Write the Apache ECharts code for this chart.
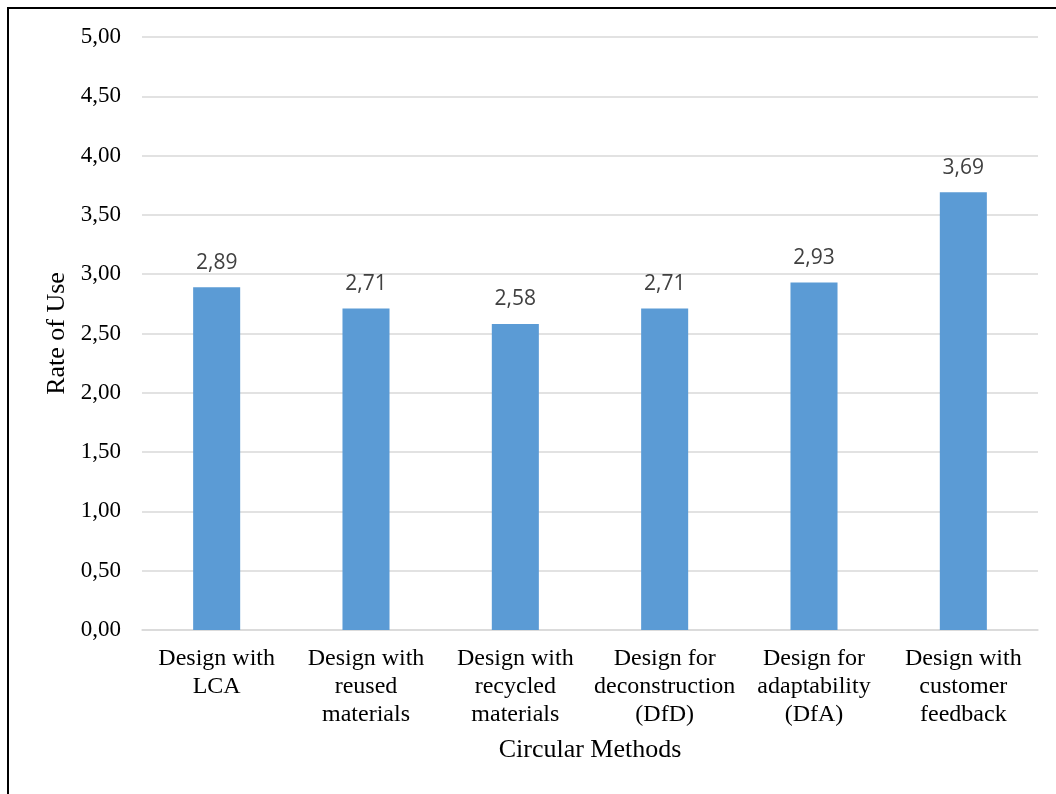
<!DOCTYPE html>
<html>
<head>
<meta charset="utf-8">
<script src="https://cdn.jsdelivr.net/npm/echarts@6/dist/echarts.min.js"></script>
<style>
  html, body { margin: 0; padding: 0; background: #fff; }
  #chart { width: 1056px; height: 794px; }
</style>
</head>
<body>
<div id="chart"></div>
<script>
// Circular design methods and their average rate of use
const categories = [
  'Design with\nLCA',
  'Design with\nreused\nmaterials',
  'Design with\nrecycled\nmaterials',
  'Design for\ndeconstruction\n(DfD)',
  'Design for\nadaptability\n(DfA)',
  'Design with\ncustomer\nfeedback'
];
const rateOfUse = [2.89, 2.71, 2.58, 2.71, 2.93, 3.69];
const yMin = 0;
const yMax = 5;
const yStep = 0.5;

const fmtComma = v => v.toFixed(2).replace('.', ',');
const serif = '"Liberation Serif", "Times New Roman", serif';

const chart = echarts.init(document.getElementById('chart'), null, { renderer: 'canvas' });
chart.setOption({
  backgroundColor: '#ffffff',
  animation: false,
  graphic: [{
    type: 'rect',
    shape: { x: 8, y: 8, width: 1100, height: 850 },
    style: { fill: 'none', stroke: '#000000', lineWidth: 2 },
    silent: true,
    z: 100
  }],
  grid: { left: 142, right: 18, top: 37, bottom: 164, containLabel: false },
  xAxis: {
    type: 'category',
    data: categories,
    name: 'Circular Methods',
    nameLocation: 'middle',
    nameGap: 107,
    nameTextStyle: { fontFamily: serif, fontSize: 26, color: '#000' },
    axisLine: { show: true, lineStyle: { color: '#D9D9D9', width: 1.5 } },
    axisTick: { show: false },
    axisLabel: {
      fontFamily: serif, fontSize: 24, color: '#000',
      lineHeight: 28, margin: 15, interval: 0
    }
  },
  yAxis: {
    type: 'value',
    min: yMin,
    max: yMax,
    interval: yStep,
    name: 'Rate of Use',
    nameLocation: 'middle',
    nameGap: 71,
    nameTextStyle: { fontFamily: serif, fontSize: 26, color: '#000' },
    axisLine: { show: false },
    axisTick: { show: false },
    splitLine: { lineStyle: { color: '#D9D9D9', width: 1.5 } },
    axisLabel: {
      fontFamily: serif, fontSize: 23, color: '#000', margin: 21,
      formatter: v => fmtComma(v)
    }
  },
  series: [{
    type: 'bar',
    data: rateOfUse,
    barWidth: '31.5%',
    itemStyle: { color: '#5B9BD5' },
    label: {
      show: true,
      position: 'top',
      distance: 14,
      fontFamily: '"Open Sans", "Noto Sans", sans-serif',
      fontSize: 21,
      color: '#404040',
      formatter: p => fmtComma(p.value)
    }
  }]
});
</script>
</body>
</html>
